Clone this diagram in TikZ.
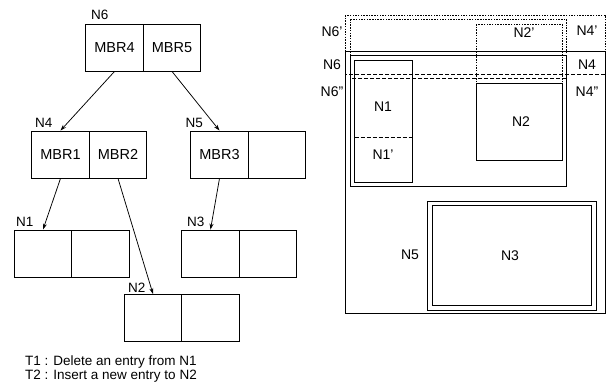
\documentclass[tikz,border=0pt]{standalone}
\usepackage{fontspec}
\setmainfont{Liberation Sans}
\usetikzlibrary{arrows.meta}
\begin{document}
\begin{tikzpicture}[x=1pt,y=-1pt,
  cell/.style={draw,line width=0.9pt,minimum width=57.5pt,minimum height=47pt,inner sep=0pt,font=\fontsize{14.5}{16}\selectfont},
  lbl/.style={inner sep=0pt,anchor=base west,font=\fontsize{13.5}{15}\selectfont},
  rl/.style={inner sep=0pt,font=\fontsize{14}{16}\selectfont},
  note/.style={inner sep=0pt,anchor=base west,font=\fontsize{13.5}{15}\selectfont},
  arr/.style={line width=0.75pt,-{Stealth[length=6pt,width=4pt]}},
  solidbox/.style={line width=0.9pt},
  dotbox/.style={line width=0.8pt,dash pattern=on 1.5pt off 1.2pt},
  dashbox/.style={line width=0.9pt,dash pattern=on 4pt off 2pt}]
\useasboundingbox (0,0) rectangle (610,388);
% tree
\node[cell] (n6a) at (114.5,47.5) {MBR4};
\node[cell] (n6b) at (172,47.5) {MBR5};
\node[cell] (n4a) at (60.5,154.5) {MBR1};
\node[cell] (n4b) at (118,154.5) {MBR2};
\node[cell] (n5a) at (219.5,154.5) {MBR3};
\node[cell] (n5b) at (277,154.5) {};
\node[cell] (n1a) at (43,253.5) {};
\node[cell] (n1b) at (100.5,253.5) {};
\node[cell] (n3a) at (210.5,253.5) {};
\node[cell] (n3b) at (268,253.5) {};
\node[cell] (n2a) at (153,318) {};
\node[cell] (n2b) at (210.5,318) {};
\node[lbl] (ln6) at (91,19) {N6};
\node[lbl] (ln4) at (35,127.5) {N4};
\node[lbl] (ln5) at (185.5,127.5) {N5};
\node[lbl] (ln1) at (16,226.5) {N1};
\node[lbl] (ln3) at (187,226.5) {N3};
\node[lbl] (ln2) at (128,292) {N2};
\draw[arr] (n6a.south) -- (n4a.north);
\draw[arr] (n6b.south) -- (n5a.north);
\draw[arr] (n4a.south) -- (n1a.north);
\draw[arr] (n4b.south) -- (n2a.north);
\draw[arr] (n5a.south) -- (n3a.north);
\node[note] (t1) at (25,365.5) {T1 : Delete an entry from N1};
\node[note] (t2) at (25,379.5) {T2 : Insert a new entry to N2};
% right diagram
\draw[dotbox] (345,15) rectangle (605,313);
\draw[dotbox] (350,19) rectangle (566,186);
\draw[dotbox] (476,24) rectangle (562,160);
\draw[dashbox] (345,74) rectangle (605,313);
\draw[dashbox] (350,78) rectangle (566,186);
\draw[solidbox] (345,51) rectangle (605,313);
\draw[solidbox] (350,55) rectangle (566,186);
\draw[solidbox,fill=white] (476,83) rectangle (562,160);
\draw[solidbox] (354.5,60) rectangle (412.5,182);
\draw[dashbox] (354.5,137) -- (412.5,137);
\draw[solidbox] (427,201) rectangle (596,310);
\draw[solidbox] (432,205) rectangle (591,305);
\node[rl] (r6p) at (332,32) {N6'};
\node[rl] (r6) at (332,65) {N6};
\node[rl] (r6pp) at (332,92) {N6''};
\node[rl] (r4p) at (587,31) {N4'};
\node[rl] (r4) at (587,65) {N4};
\node[rl] (r4pp) at (587,92) {N4''};
\node[rl] (r2p) at (524,33) {N2'};
\node[rl] (r1) at (383,107) {N1};
\node[rl] (r1p) at (383,155) {N1'};
\node[rl] (r2) at (521,122) {N2};
\node[rl] (r5) at (410,255) {N5};
\node[rl] (r3) at (510,256) {N3};
\end{tikzpicture}
\end{document}
